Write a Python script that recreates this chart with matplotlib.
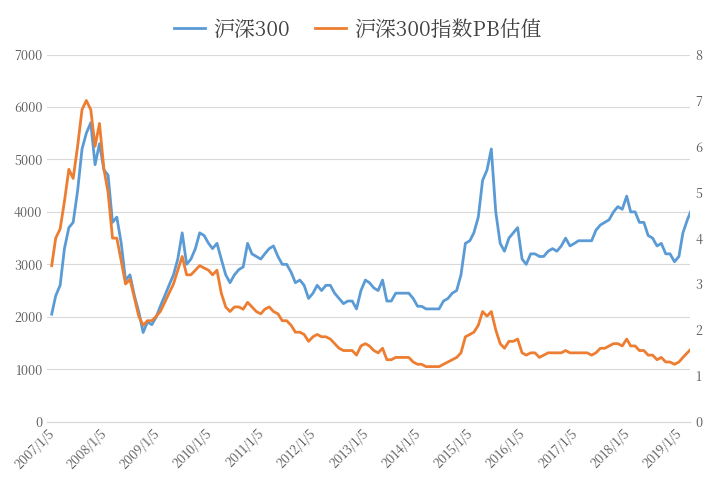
import matplotlib
matplotlib.use("Agg")
import matplotlib.pyplot as plt
from matplotlib import font_manager as fm
import pandas as pd

cjk = None
for f in fm.findSystemFonts():
    if "CJK" in f and ("Regular" in f or "Medium" in f):
        cjk = f
        break
if cjk:
    fm.fontManager.addfont(cjk)
    cjk_name = fm.FontProperties(fname=cjk).get_name()
else:
    cjk_name = "Noto Sans CJK SC"
plt.rcParams["font.family"] = "sans-serif"
plt.rcParams["font.sans-serif"] = [cjk_name, "Noto Sans CJK SC", "DejaVu Sans"]

hs300 = [2050,2400,2600,3300,3700,3800,4400,5200,5500,5700,4900,5300,
         4800,4700,3800,3900,3400,2700,2800,2400,2100,1700,1900,1850,
         2000,2200,2400,2600,2800,3100,3600,3000,3100,3300,3600,3550,
         3400,3300,3400,3100,2800,2650,2800,2900,2950,3400,3200,3150,
         3100,3200,3300,3350,3150,3000,3000,2850,2650,2700,2600,2350,
         2450,2600,2500,2600,2600,2450,2350,2250,2300,2300,2150,2500,
         2700,2650,2550,2500,2700,2300,2300,2450,2450,2450,2450,2350,
         2200,2200,2150,2150,2150,2150,2300,2350,2450,2500,2800,3400,
         3450,3600,3900,4600,4800,5200,4000,3400,3250,3500,3600,3700,
         3100,3000,3200,3200,3150,3150,3250,3300,3250,3350,3500,3350,
         3400,3450,3450,3450,3450,3650,3750,3800,3850,4000,4100,4050,
         4300,4000,4000,3800,3800,3550,3500,3350,3400,3200,3200,3050,
         3150,3600,3850,4050]
pb = [3.4,4.0,4.2,4.8,5.5,5.3,6.0,6.8,7.0,6.8,6.0,6.5,
      5.5,5.0,4.0,4.0,3.5,3.0,3.1,2.7,2.3,2.1,2.2,2.2,
      2.3,2.4,2.6,2.8,3.0,3.3,3.6,3.2,3.2,3.3,3.4,3.35,
      3.3,3.2,3.3,2.8,2.5,2.4,2.5,2.5,2.45,2.6,2.5,2.4,
      2.35,2.45,2.5,2.4,2.35,2.2,2.2,2.1,1.95,1.95,1.9,1.75,
      1.85,1.9,1.85,1.85,1.8,1.7,1.6,1.55,1.55,1.55,1.45,1.65,
      1.7,1.65,1.55,1.5,1.6,1.35,1.35,1.4,1.4,1.4,1.4,1.3,
      1.25,1.25,1.2,1.2,1.2,1.2,1.25,1.3,1.35,1.4,1.5,1.85,
      1.9,1.95,2.1,2.4,2.3,2.4,2.0,1.7,1.6,1.75,1.75,1.8,
      1.5,1.45,1.5,1.5,1.4,1.45,1.5,1.5,1.5,1.5,1.55,1.5,
      1.5,1.5,1.5,1.5,1.45,1.5,1.6,1.6,1.65,1.7,1.7,1.65,
      1.8,1.65,1.65,1.55,1.55,1.45,1.45,1.35,1.4,1.3,1.3,1.25,
      1.3,1.4,1.5,1.6]
dates = pd.date_range("2007-01-05", periods=len(hs300), freq="MS") + pd.Timedelta(days=4)
tick_years = list(range(2007, 2020))
tick_labels = [f"{y}/1/5" for y in tick_years]

fig = plt.figure(figsize=(7.16, 4.83), dpi=100)
ax = fig.add_axes([0.066, 0.127, 0.898, 0.76])
ax2 = ax.twinx()
l1, = ax.plot(dates, hs300, color="#5B9BD5", lw=2, label="沪深300")
l2, = ax2.plot(dates, pb, color="#ED7D31", lw=2, label="沪深300指数PB估值")
ax.set_ylim(0, 7000); ax2.set_ylim(0, 8)
ax.set_yticks(range(0, 7001, 1000)); ax2.set_yticks(range(0, 9))
ax.set_xlim(pd.Timestamp("2007-01-05"), pd.Timestamp("2019-04-25"))
ax.set_xticks([pd.Timestamp(f"{y}-01-05") for y in tick_years])
ax.set_xticklabels(tick_labels, rotation=45, ha="right", rotation_mode="anchor")
ax.grid(axis="y", color="#d9d9d9", lw=0.8)
for a in (ax, ax2):
    for s in ("top", "left", "right"):
        a.spines[s].set_visible(False)
    a.spines["bottom"].set_color("#d9d9d9")
    a.tick_params(length=0, labelsize=9, colors="#595959")
ax.set_axisbelow(True)
fig.legend(handles=[l1, l2], loc="upper center", ncol=2, frameon=False,
           bbox_to_anchor=(0.5, 1.0), fontsize=15, handlelength=1.5,
           columnspacing=1.2, handletextpad=0.4, labelcolor="#404040")
fig.savefig("out.png", dpi=100)
